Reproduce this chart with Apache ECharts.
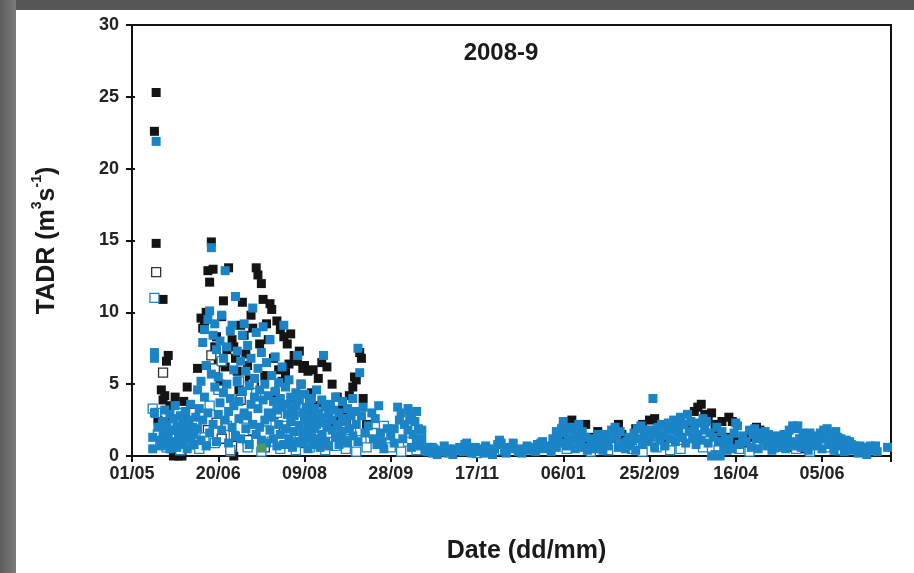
<!DOCTYPE html>
<html>
<head>
<meta charset="utf-8">
<script src="https://cdn.jsdelivr.net/npm/echarts@6/dist/echarts.min.js"></script>
<style>
  body { margin: 0; }
  #frame { position: relative; width: 914px; height: 573px; background: #565656; overflow: hidden; }
  #side { position: absolute; left: 0; top: 0; width: 16px; height: 573px; background: linear-gradient(to right, #5e5e5e, #7a7a7a); }
  #main { position: absolute; left: 16px; top: 10px; width: 898px; height: 563px; background: #fff; }
</style>
</head>
<body>
<div id="frame"><div id="side"></div><div id="main"></div></div>
<script>
// x = days since 01/05/2008, y = TADR (m3 s-1)
var tickLabels = ['01/05', '20/06', '09/08', '28/09', '17/11', '06/01', '25/2/09', '16/04', '05/06'];

var blackFilled = [
  [13,22.6],[14,25.3],[14,14.8],[18,10.9],[15,2.5],[17,4.6],[18,3.9],[19,4.2],[20,6.6],[21,7.0],[22,3.5],[23,2.8],
  [24,3.4],[25,4.1],[24,0.0],[27,0.0],[29,0.0],[30,3.8],[31,2.9],[32,4.8],[34,3.2],[36,2.4],[38,6.1],[40,9.6],
  [41,8.9],[42,9.4],[43,10.0],[44,12.9],[45,12.1],[46,14.9],[47,13.0],[48,7.6],[49,8.3],[50,6.5],[51,5.0],[52,9.7],
  [53,10.8],[54,6.2],[55,7.4],[56,13.1],[59,0.0],[58,8.1],[59,7.6],[60,6.8],[61,5.9],[62,4.6],[63,9.1],[64,10.7],
  [65,8.4],[66,7.1],[67,6.3],[68,5.4],[69,9.8],[70,8.9],[71,4.9],[72,13.1],[73,12.6],[74,7.8],[75,12.0],[76,10.9],
  [77,5.6],[78,9.2],[79,8.1],[80,10.6],[81,10.2],[82,6.8],[83,4.4],[84,9.4],[85,6.0],[86,8.8],[87,5.2],[88,8.3],
  [89,5.8],[90,7.8],[91,6.4],[92,8.5],[93,2.8],[94,7.0],[95,3.7],[96,6.6],[97,7.3],[98,5.0],[99,6.1],[100,6.3],
  [101,3.1],[102,5.9],[103,3.8],[104,4.4],[105,6.0],[106,2.9],[107,3.5],[108,5.4],[110,6.5],[112,3.0],[113,6.2],
  [114,2.1],[116,5.0],[119,4.1],[120,2.4],[122,3.5],[124,3.0],[126,4.2],[128,4.8],[129,5.5],[130,5.3],[132,7.2],
  [133,6.8],[134,4.0],[136,2.2],
  [248,1.2],[250,2.0],[252,2.4],[255,2.5],[256,0.8],[258,1.9],[262,0.7],[263,2.2],[266,1.3],[270,1.7],[272,1.1],
  [282,2.2],[284,1.5],[286,0.6],[292,1.9],[296,2.2],[300,2.5],[303,2.6],[304,1.8],[308,1.2],[314,2.0],[318,2.6],
  [322,2.2],[326,3.1],[328,3.4],[330,3.6],[332,2.9],[334,2.6],[336,3.0],[338,2.2],[340,1.5],[342,2.4],[344,1.3],
  [346,2.7],[348,2.4],[350,1.0],[356,0.9],[358,1.3],[362,2.0],[364,1.8],[366,1.6],[374,0.8],[380,0.6],[390,0.5]
];

var blueFilled = [
  [12,0.5],[12,1.3],[13,6.8],[13,7.2],[14,21.9],[13,3.0],[15,2.0],[16,1.1],[17,0.7],[18,2.4],[18,1.6],[19,3.2],
  [20,0.9],[20,2.2],[21,1.4],[22,2.9],[22,0.5],[23,1.8],[24,2.6],[24,1.0],[25,3.5],[26,2.1],[26,0.6],[27,1.4],
  [28,2.8],[28,1.9],[29,0.8],[30,2.3],[30,1.2],[31,3.1],[32,1.7],[32,0.5],[33,2.5],[34,1.1],[34,3.6],[35,2.0],
  [36,0.8],[36,1.5],[37,2.7],[38,4.6],[38,1.9],[39,3.3],[40,5.2],[40,1.1],[41,7.9],[41,2.5],[42,8.8],[42,4.1],
  [43,6.3],[43,0.7],[44,9.5],[44,3.0],[45,10.1],[45,1.6],[46,14.5],[46,5.7],[47,8.4],[47,2.2],[48,9.2],[48,4.8],
  [49,7.4],[49,1.0],[50,5.5],[50,2.9],[51,8.0],[51,3.7],[52,9.8],[52,1.8],[53,6.8],[53,4.4],[54,12.9],[54,2.5],
  [55,7.6],[55,5.0],[56,3.1],[56,0.9],[57,8.7],[57,4.0],[58,9.1],[58,2.0],[59,6.0],[59,3.5],[60,11.1],[60,1.4],
  [61,5.2],[61,7.3],[62,3.8],[62,2.6],[63,6.6],[63,1.2],[64,8.4],[64,4.5],[65,9.2],[65,3.0],[66,5.9],[66,1.9],
  [67,7.7],[67,2.8],[68,4.9],[68,0.8],[69,6.8],[69,3.6],[70,10.3],[70,2.2],[71,5.4],[71,4.1],[72,8.6],[72,1.5],
  [73,6.1],[73,3.3],[74,4.6],[74,2.0],[75,7.2],[75,1.1],[76,9.0],[76,3.9],[77,5.0],[77,2.5],[78,6.5],[78,0.9],
  [79,4.2],[79,3.0],[80,8.1],[80,1.8],[81,5.6],[81,2.7],[82,3.8],[82,1.2],[83,6.9],[83,4.5],[84,3.2],[84,0.7],
  [85,5.1],[85,2.2],[86,4.0],[86,1.5],[87,6.2],[87,3.4],[88,9.1],[88,0.8],[89,4.8],[89,1.9],[90,3.6],[90,2.9],
  [91,5.3],[91,1.2],[92,4.1],[92,2.4],[93,3.2],[93,0.6],[94,2.8],[94,1.7],[95,4.4],[95,3.5],[96,7.0],[96,1.0],
  [97,3.9],[97,2.1],[98,5.0],[98,0.9],[99,3.0],[99,1.6],[100,2.6],[100,4.3],[101,3.4],[101,1.1],[102,2.0],[102,0.5],
  [103,3.7],[103,2.8],[104,1.4],[104,4.0],[105,2.5],[105,0.8],[106,3.3],[106,1.9],[107,2.2],[107,4.6],[108,1.2],
  [108,3.0],[109,2.7],[109,0.6],[110,3.9],[110,1.5],[111,7.0],[111,2.3],[112,3.4],[112,1.0],[113,2.0],[114,2.9],
  [114,0.7],[115,3.6],[116,1.8],[116,2.5],[117,3.2],[118,1.3],[118,4.1],[119,2.2],[120,3.0],[120,0.8],[121,1.7],
  [122,2.6],[122,3.8],[123,1.1],[124,2.4],[125,3.3],[125,0.9],[126,1.9],[127,2.8],[128,4.0],[128,1.4],[129,3.1],
  [130,2.2],[131,7.5],[131,1.0],[132,5.8],[133,2.8],[134,3.4],[135,1.6],[137,2.1],[139,3.0],
  [140,1.2],[141,2.6],[142,0.8],[143,3.5],[144,1.6],[145,1.0],[146,0.5],[148,1.9],[150,1.4],[152,1.9],[152,0.9],
  [154,3.4],[155,2.5],[156,3.0],[157,1.2],[158,2.2],[160,3.3],[160,1.8],[161,2.8],[162,2.5],[162,0.6],[163,1.5],
  [165,3.1],[164,2.4],[165,1.0],[166,1.9],[167,0.7],[168,1.8],[168,1.2],[170,0.4],
  [171,0.3],[172,0.6],[174,0.6],[174,0.2],[175,0.5],[177,0.1],[178,0.4],[180,0.3],[181,0.7],[183,0.2],[185,0.5],
  [186,0.1],[188,0.4],[190,0.6],[192,0.3],[193,0.8],[194,0.9],[196,0.4],[197,0.2],[199,0.6],[200,0.3],[202,0.5],
  [204,0.2],[205,0.7],[207,0.4],[209,0.1],[210,0.5],[212,0.8],[213,1.1],[214,0.9],[216,0.4],[217,0.2],[219,0.6],
  [221,0.9],[222,0.5],[224,0.3],[226,0.2],[227,0.5],[229,0.7],[230,0.4],[232,0.6],[234,0.3],[235,0.8],[237,0.9],
  [238,1.0],[239,0.5],[241,0.7],[243,0.3],[244,1.2],[246,1.7],[246,0.6],
  [247,1.4],[248,0.9],[249,1.9],[250,2.4],[251,1.6],[252,0.7],[253,1.2],[254,2.0],[255,1.1],[256,1.8],[257,0.5],
  [258,1.4],[259,2.2],[260,1.0],[261,1.7],[262,0.6],[263,1.3],[264,0.4],[266,0.9],[267,1.2],[268,0.5],[270,1.5],
  [271,0.8],[272,1.3],[273,0.4],[274,1.1],[275,1.5],[276,0.7],[278,1.8],[279,1.2],[280,2.0],[281,1.4],[282,0.6],
  [283,1.7],[284,0.9],[286,0.5],[287,1.0],[288,1.3],[289,0.7],[290,1.1],[291,1.6],[292,0.4],[293,1.9],[294,1.2],
  [295,2.1],[296,0.8],[297,1.5],[298,1.8],[299,1.0],[300,1.8],[301,1.3],[302,4.0],[303,0.6],[304,1.6],[305,2.0],
  [306,1.1],[307,2.2],[308,1.4],[309,0.7],[310,1.9],[311,2.3],[312,1.2],[313,1.8],[314,2.5],[315,1.0],[316,2.1],
  [317,1.6],[318,2.7],[319,1.3],[320,2.2],[321,0.9],[322,2.9],[323,1.7],[324,2.4],[325,1.2],[326,2.0],[327,0.8],
  [328,1.5],[329,2.3],[330,1.1],[331,2.6],[332,1.8],[333,2.4],[334,0.9],[335,1.6],[336,0.0],[337,1.3],[338,0.1],
  [339,2.0],[340,1.0],[341,0.0],[342,1.7],[343,0.6],[344,1.2],[345,0.4],[346,1.0],[348,0.5],[349,1.6],[350,2.3],
  [351,2.1],[352,0.8],[354,1.4],[356,1.0],[358,1.8],[359,0.6],[360,1.5],[361,1.9],[362,1.2],[363,0.5],[364,1.6],
  [366,1.1],[367,1.7],[368,0.7],[369,1.5],[370,1.2],[371,0.4],[372,1.3],[373,1.0],[374,1.4],[375,0.6],[376,1.2],
  [377,0.9],[378,1.5],[379,0.5],[380,1.3],[381,1.8],[382,1.0],[383,2.1],[384,0.7],[385,1.9],[386,2.1],[387,1.2],
  [388,0.6],[389,1.6],[390,1.0],[391,1.5],[392,0.4],[393,1.6],[394,1.1],[395,0.7],[396,1.4],[397,0.9],[398,1.3],
  [399,1.6],[400,0.5],[401,1.8],[402,1.2],[403,1.9],[404,0.8],[405,1.5],[406,1.0],[407,0.4],[408,1.7],[409,1.3],
  [410,0.7],[411,1.2],[412,0.9],[413,0.3],[414,1.1],[415,0.6],[416,1.0],[417,0.8],[418,0.4],[419,0.7],[420,0.5],
  [421,0.2],[422,0.7],[423,0.5],[424,0.3],[425,0.6],[426,0.1],[428,0.7],[429,0.4],[431,0.7],[432,0.3],[438,0.6]
];

var blackOpen = [
  [14,12.8],[18,5.8],[25,2.2],[33,0.9],[36,3.0],[44,1.8],[46,7.0],[48,6.1],[49,2.3],[52,1.2],[57,0.3],[58,0.7],
  [63,3.9],[67,1.1],[70,5.0],[77,0.6],[82,2.9],[88,1.7],[93,3.4],[99,0.9],[104,2.0],[110,3.1],[117,1.1],[124,2.3]
];

var blueOpen = [
  [12,3.3],[13,11.0],[14,3.0],[15,1.5],[18,2.2],[20,0.6],[23,1.2],[26,3.0],[28,0.4],[31,1.6],[34,0.8],[37,2.4],
  [39,0.5],[42,1.3],[45,3.5],[48,0.9],[50,4.6],[52,6.6],[55,2.1],[57,0.4],[59,1.4],[62,5.2],[65,2.6],[67,0.6],
  [70,1.8],[72,4.4],[75,0.3],[78,2.4],[81,1.0],[84,3.0],[86,0.5],[89,2.1],[92,1.3],[95,0.4],[97,2.7],[100,1.5],
  [103,0.6],[106,2.3],[109,1.0],[112,0.4],[115,1.6],[118,0.7],[121,1.3],[124,0.5],[127,1.8],[130,0.3],[133,1.1],
  [136,0.6],[140,1.6],[143,0.9],[146,2.1],
  [150,0.6],[156,0.3],[160,1.0],[165,0.4],[176,0.3],[200,0.2],[215,0.4],[252,0.5],[258,0.7],[266,0.3],[271,0.6],
  [276,0.4],[290,0.5],[296,0.3],[304,0.6],[312,0.4],[318,0.5],[331,0.6],[340,0.4],[352,0.5],[358,0.3],[372,0.6],
  [385,0.5],[393,0.3],[402,0.6],[410,0.4],[414,0.5]
];

var greenFilled = [[75,0.55]];

var chart = echarts.init(document.getElementById('main'));
var font = 'Liberation Sans, Arial, sans-serif';
var blue = '#1a84c7';
var black = '#141414';

function sq(name, data, fill, border, z) {
  return {
    name: name,
    type: 'scatter',
    symbol: 'rect',
    symbolSize: [9, 9],
    data: data,
    z: z,
    itemStyle: { color: fill, borderColor: border, borderWidth: border ? 1.3 : 0, opacity: 1 },
    emphasis: { disabled: true }
  };
}

chart.setOption({
  animation: false,
  backgroundColor: '#fff',
  grid: { left: 116, top: 15, right: 23, bottom: 117, show: true, borderColor: '#111', borderWidth: 2, backgroundColor: 'transparent' },
  graphic: [{
    type: 'text', x: 485, y: 43,
    style: { text: '2008-9', font: 'bold 24px ' + font, fill: '#1a1a1a', textAlign: 'center', textVerticalAlign: 'middle' }
  }],
  xAxis: {
    type: 'value', min: 0, max: 440, interval: 50,
    name: 'Date (dd/mm)', nameLocation: 'middle', nameGap: 83,
    nameTextStyle: { fontFamily: font, fontWeight: 'bold', fontSize: 25, color: '#1a1a1a', padding: [0, 0, 0, 30] },
    axisLine: { lineStyle: { color: '#111', width: 2 } },
    axisTick: { length: 6, lineStyle: { color: '#111', width: 2 } },
    axisLabel: {
      fontFamily: font, fontWeight: 'bold', fontSize: 18, color: '#222', margin: 9,
      formatter: function (v) { return v % 50 === 0 ? (tickLabels[v / 50] || '') : ''; }
    },
    splitLine: { show: false }
  },
  yAxis: [{
    type: 'value', min: 0, max: 30, interval: 5,
    name: '{b|TADR (m}{s|3}{b|s}{s|-1}{b|)}', nameLocation: 'middle', nameGap: 72, nameRotate: 90,
    nameTextStyle: {
      rich: {
        b: { fontFamily: font, fontWeight: 'bold', fontSize: 25, color: '#1a1a1a', lineHeight: 30, verticalAlign: 'bottom' },
        s: { fontFamily: font, fontWeight: 'bold', fontSize: 14, color: '#1a1a1a', lineHeight: 30, verticalAlign: 'top', padding: [0, 0, 9, 0] }
      }
    },
    axisLine: { show: true, lineStyle: { color: '#111', width: 2 } },
    axisTick: { show: true, length: 6, lineStyle: { color: '#111', width: 2 } },
    axisLabel: { fontFamily: font, fontWeight: 'bold', fontSize: 18, color: '#222', margin: 13 },
    splitLine: { show: false }
  }, {
    type: 'value', min: 0, max: 30, interval: 5, position: 'left',
    axisLine: { show: false },
    axisTick: { show: true, inside: true, length: 3, lineStyle: { color: '#111', width: 2 } },
    axisLabel: { show: false },
    splitLine: { show: false }
  }],
  series: [
    sq('black filled', blackFilled, black, null, 2),
    sq('black open', blackOpen, '#fff', '#333', 3),
    sq('blue open', blueOpen, '#fff', blue, 3),
    sq('blue filled', blueFilled, blue, null, 4),
    sq('green', greenFilled, '#4f9a5c', null, 5)
  ]
});
</script>
</body>
</html>
